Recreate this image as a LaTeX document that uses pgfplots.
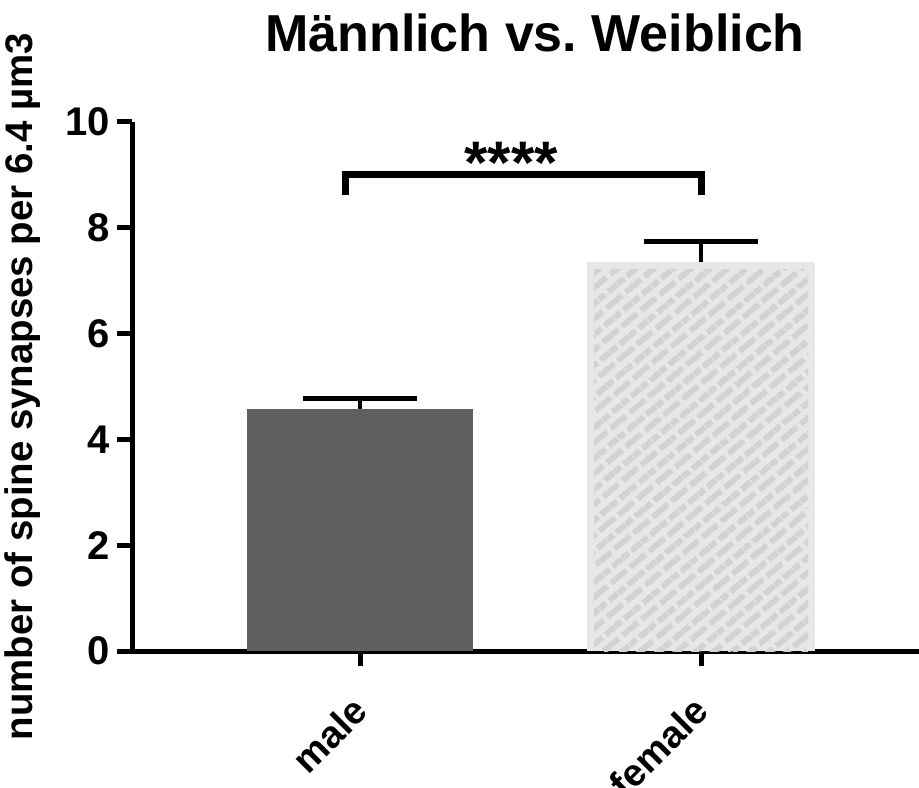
\documentclass[border=0pt]{standalone}
\usepackage{pgfplots}
\pgfplotsset{compat=1.18}
\usepackage{fontspec}
\setmainfont{Liberation Sans}
\usetikzlibrary{patterns.meta}
\frenchspacing
\definecolor{maleC}{HTML}{606060}
\definecolor{femC}{HTML}{E7E7E7}
\definecolor{brickC}{HTML}{D2D2D2}
\pgfdeclarepattern{
  name=bricks,
  type=uncolored,
  bottom left={\pgfpoint{0pt}{0pt}},
  top right={\pgfpoint{12.5pt}{12pt}},
  tile size={\pgfpoint{12.5pt}{12pt}},
  tile transformation={\pgftransformrotate{40}},
  code={
    \pgfpathrectangle{\pgfpoint{0pt}{1.4pt}}{\pgfpoint{10.5pt}{3.2pt}}
    \pgfpathrectangle{\pgfpoint{6.25pt}{7.4pt}}{\pgfpoint{6.25pt}{3.2pt}}
    \pgfpathrectangle{\pgfpoint{0pt}{7.4pt}}{\pgfpoint{4.25pt}{3.2pt}}
    \pgfusepath{fill}
  }
}
\begin{document}
\begin{tikzpicture}
\useasboundingbox (-66pt,-68pt) rectangle (393.5pt,325.5pt);
\begin{axis}[
  at={(0pt,0pt)}, anchor=south west,
  width=393.5pt, height=264.5pt, scale only axis,
  xmin=-0.6686, xmax=1.639, ymin=0, ymax=10,
  clip=false,
  axis x line*=bottom, axis y line*=left,
  axis line style={line width=2.5pt, black},
  xtick={0,1}, xticklabels={male,female},
  ytick={0,2,4,6,8,10},
  tick align=outside, major tick length=7.5pt,
  tick style={line width=2.5pt, black},
  /pgf/number format/assume math mode=true,
  yticklabel style={font=\fontsize{20}{20}\selectfont\bfseries, inner sep=0pt, xshift=-3.5pt},
  xticklabel style={font=\fontsize{19}{19}\selectfont\bfseries, xshift=-5pt, yshift=-14pt, rotate=45, anchor=north east, inner sep=0pt},
  ylabel={number of spine synapses per 6.4 µm3},
  ylabel style={at={(axis description cs:-0.139,0.5)}, anchor=center, font=\fontsize{19.2}{19.2}\selectfont\bfseries},
  title={Männlich vs.\ Weiblich},
  title style={at={(axis description cs:0.512,1.110)}, anchor=base, font=\fontsize{26}{26}\selectfont\bfseries},
  ybar,
]
\addplot[fill=maleC, draw=none, bar width=113pt, bar shift=0pt,
  error bars/.cd, y dir=plus, y explicit,
  error bar style={line width=2.3pt, black},
  error mark options={rotate=90, mark size=28.5pt, line width=2.3pt, black}]
  coordinates {(0,4.575) +- (0,0.195)};
\addplot[fill=femC, draw=none, bar width=114pt, bar shift=0pt,
  error bars/.cd, y dir=plus, y explicit,
  error bar style={line width=2.3pt, black},
  error mark options={rotate=90, mark size=28.5pt, line width=2.3pt, black}]
  coordinates {(1,7.35) +- (0,0.39)};
\addplot[fill=femC, draw=none, bar width=107pt, bar shift=0pt,
  postaction={pattern=bricks, pattern color=brickC}]
  coordinates {(1,7.22)};
\draw[line width=3.5pt, black, line join=miter] (axis cs:-0.0425,8.62) -- (axis cs:-0.0425,9.0) -- (axis cs:1.0,9.0) -- (axis cs:1.0,8.62);
\node[anchor=base, font=\fontsize{30}{30}\selectfont\bfseries, inner sep=0pt] at (axis cs:0.443,8.84) {****};
\end{axis}
\end{tikzpicture}
\end{document}
